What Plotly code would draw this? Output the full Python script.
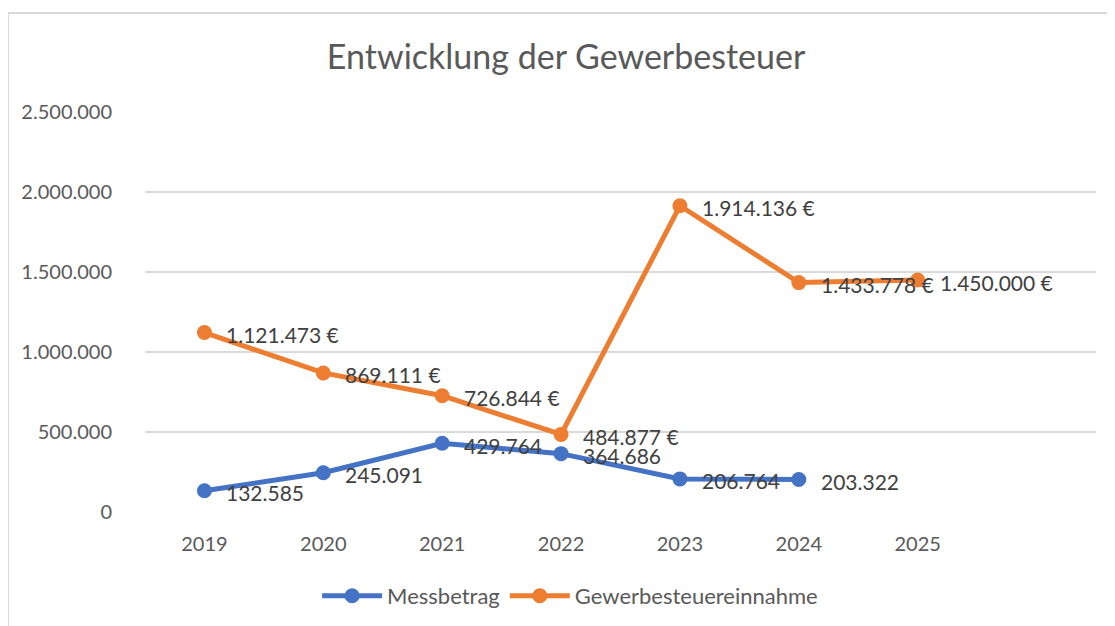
import plotly.graph_objects as go

years = [2019, 2020, 2021, 2022, 2023, 2024, 2025]
messbetrag = [132585, 245091, 429764, 364686, 206764, 203322, None]
gewerbesteuer = [1121473, 869111, 726844, 484877, 1914136, 1433778, 1450000]
y_ticks = [0, 500000, 1000000, 1500000, 2000000, 2500000]


def de_num(v):
    """Format a number with German thousands separators."""
    return f"{v:,.0f}".replace(",", ".")


FONT = "Lato, Open Sans, sans-serif"
BLUE = "#4472C4"
ORANGE = "#ED7D31"
LABEL_FONT = dict(size=21, color="#404040", family=FONT)

fig = go.Figure()
fig.add_trace(go.Scatter(
    x=years, y=messbetrag, name="Messbetrag",
    mode="lines+markers",
    line=dict(color=BLUE, width=5),
    marker=dict(color=BLUE, size=15),
    cliponaxis=False,
))
fig.add_trace(go.Scatter(
    x=years, y=gewerbesteuer, name="Gewerbesteuereinnahme",
    mode="lines+markers",
    line=dict(color=ORANGE, width=5),
    marker=dict(color=ORANGE, size=15),
    cliponaxis=False,
))

# data labels, Excel style: to the right of each point
for series, suffix in ((messbetrag, ""), (gewerbesteuer, " €")):
    for x, v in zip(years, series):
        if v is None:
            continue
        fig.add_annotation(x=x, y=v, text=de_num(v) + suffix,
                           showarrow=False, xanchor="left", yanchor="middle",
                           xshift=20, yshift=-2, font=LABEL_FONT)

fig.update_layout(
    width=1115, height=626,
    margin=dict(l=137, r=27, t=104, b=122),
    paper_bgcolor="white", plot_bgcolor="white",
    font=dict(family=FONT, color="#595959", size=20),
    separators=",.",
    title=dict(text="Entwicklung der Gewerbesteuer", x=0.5005, y=0.922,
               xanchor="center", yanchor="middle",
               font=dict(size=34, color="#595959", family=FONT)),
    legend=dict(orientation="h", x=0.447, y=-0.21, xanchor="center",
                yanchor="middle", font=dict(size=22), itemwidth=60),
    showlegend=True,
)
fig.update_xaxes(range=[2018.5, 2026.5], tickvals=years,
                 ticktext=[str(y) for y in years],
                 showgrid=False, zeroline=False, showline=False,
                 ticks="", ticklabelstandoff=18)
fig.update_yaxes(range=[0, 2500000], tickvals=y_ticks,
                 ticktext=[de_num(v) for v in y_ticks],
                 showgrid=True, gridcolor="#D9D9D9", gridwidth=2,
                 zeroline=False, showline=False, ticks="",
                 ticklabelstandoff=32)

# light chart-area frame (left and top edges visible in the crop)
fig.add_shape(type="line", xref="paper", yref="paper",
              x0=-0.144, x1=-0.144, y0=-0.35, y1=1.2475,
              line=dict(color="#D9D9D9", width=2))
fig.add_shape(type="line", xref="paper", yref="paper",
              x0=-0.144, x1=1.05, y0=1.2475, y1=1.2475,
              line=dict(color="#D9D9D9", width=2))

fig.write_html("out.html")
